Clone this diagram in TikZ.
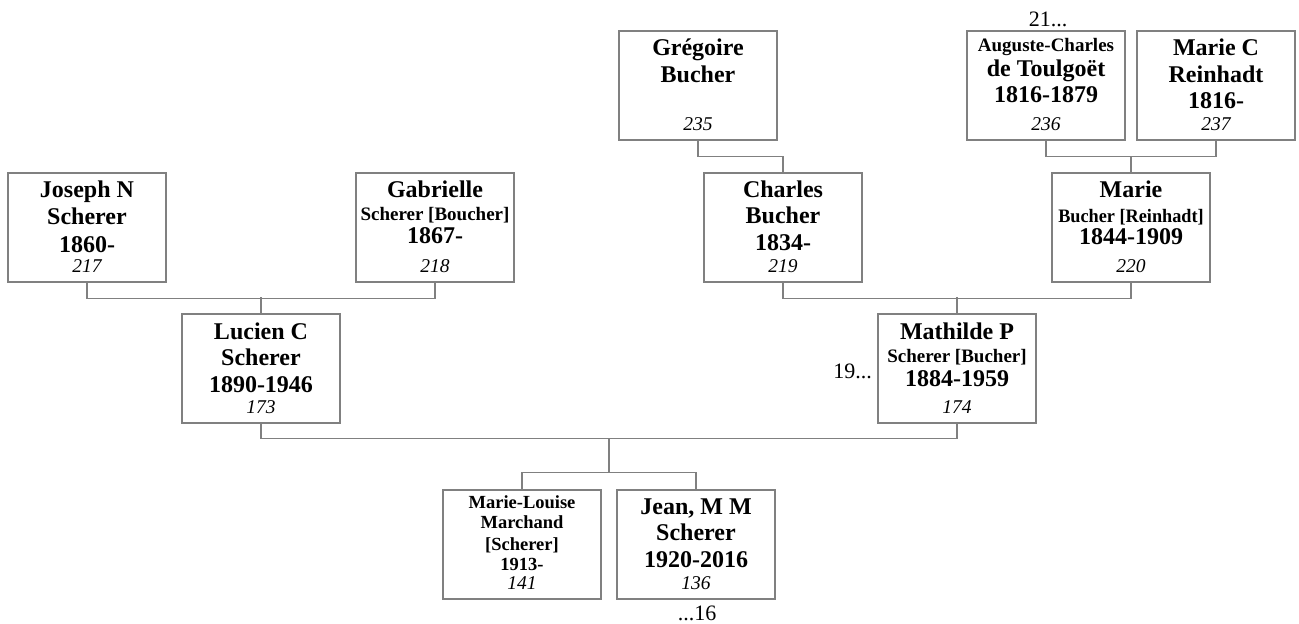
\documentclass[tikz,border=0pt]{standalone}
\usepackage{fontspec}
\setmainfont{Liberation Serif}
\definecolor{boxgray}{RGB}{128,128,128}
\tikzset{
  pbox/.style={draw=boxgray, line width=1.2pt, rectangle, minimum width=158pt, minimum height=109pt, inner sep=0pt, fill=white},
  ptext/.style={inner sep=0pt, anchor=base, text=black},
  pnum/.style={inner sep=0pt, anchor=base, font=\fontsize{19.5}{20}\selectfont\itshape},
  link/.style={draw=boxgray, line width=1.2pt},
  extra/.style={inner sep=0pt, font=\fontsize{22}{24}\selectfont},
}
\newcommand\pl[3]{{\fontsize{#1}{#2}\selectfont\bfseries #3\par}}
\newcommand\person[6]{%
  \node[pbox] (#1) at (#2+79,#3+54.5) {};
  \node[ptext] (#1-t) at (#2+79,#3+#4) {\vtop{\hsize=156pt\parindent=0pt\parskip=0pt\lineskiplimit=-100pt\centering #5}};
  \node[pnum] (#1-n) at (#2+79,#3+99) {#6};
}
\begin{document}
\begin{tikzpicture}[x=1pt,y=-1pt]
\useasboundingbox (0,0) rectangle (1299,624);
\person{joseph}{8}{173}{24.5}{\pl{24}{27}{Joseph N}\pl{24}{27}{Scherer}\pl{24}{28}{1860-}}{217}
\person{gabrielle}{356}{173}{24.5}{\pl{24}{27}{Gabrielle}\pl{19}{23}{Scherer [Boucher]}\pl{24}{23}{1867-}}{218}
\person{gregoire}{619}{31}{24.5}{\pl{24}{27}{Grégoire}\pl{24}{27}{Bucher}}{235}
\person{charles}{704}{173}{24.5}{\pl{24}{27}{Charles}\pl{24}{26}{Bucher}\pl{24}{27}{1834-}}{219}
\person{auguste}{967}{31}{20}{\pl{19}{22}{Auguste-Charles}\pl{24}{25}{de Toulgoët}\pl{24}{26}{1816-1879}}{236}
\person{mariec}{1137}{31}{24.5}{\pl{24}{27}{Marie C}\pl{24}{27}{Reinhadt}\pl{24}{26}{1816-}}{237}
\person{marie}{1052}{173}{24.5}{\pl{24}{27}{Marie}\pl{19}{25}{\scalebox{0.96}[1]{Bucher [Reinhadt]}}\pl{24}{22}{1844-1909}}{220}
\person{lucien}{182}{314}{25}{\pl{24}{27}{Lucien C}\pl{24}{26}{Scherer}\pl{24}{27}{1890-1946}}{173}
\person{mathilde}{878}{314}{25}{\pl{24}{27}{Mathilde P}\pl{19}{23}{Scherer [Bucher]}\pl{24}{24}{1884-1959}}{174}
\person{ml}{443}{490}{18}{\pl{18.5}{20}{Marie-Louise}\pl{18.5}{20}{Marchand}\pl{18.5}{22}{[Scherer]}\pl{18.5}{20}{1913-}}{141}
\person{jean}{617}{490}{24}{\pl{24}{27}{Jean, M M}\pl{24}{26}{Scherer}\pl{24}{27}{1920-2016}}{136}

\draw[link] (joseph.south) -- ++(0,16) -| (gabrielle.south);
\draw[link] (lucien.north) -- ++(0,-16);
\draw[link] (gregoire.south) -- ++(0,16) -| (charles.north);
\draw[link] (auguste.south) -- ++(0,16) -| (mariec.south);
\draw[link] (marie.north) -- ++(0,-16);
\draw[link] (charles.south) -- ++(0,16) -| (marie.south);
\draw[link] (mathilde.north) -- ++(0,-16);
\draw[link] (lucien.south) -- ++(0,15) -| (mathilde.south);
\coordinate (famtop) at (609,439);
\coordinate (kidbar) at (609,473);
\draw[link] (famtop) -- (kidbar);
\draw[link] (ml.north) -- ++(0,-17) -| (jean.north);

\node[extra, anchor=base] (t21) at (1048,26) {21...};
\node[extra, anchor=base east] (t19) at (872,378) {19...};
\node[extra, anchor=base] (t16) at (697,620) {...16};
\end{tikzpicture}
\end{document}
